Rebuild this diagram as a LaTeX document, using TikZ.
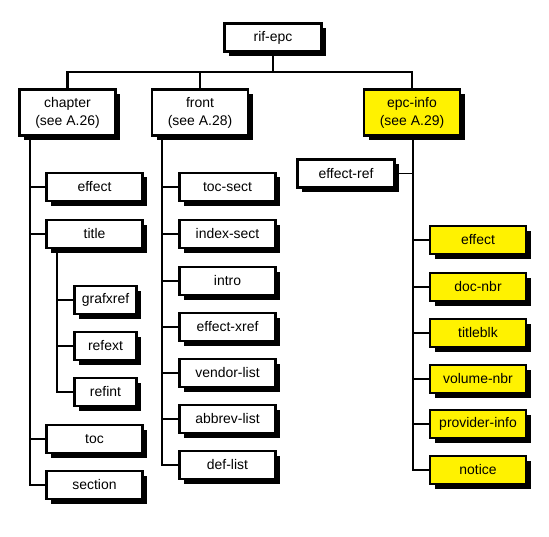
\documentclass[tikz,border=0pt]{standalone}
\usepackage{fontspec}
\setmainfont{Liberation Sans}
\usetikzlibrary{shadows}
\tikzset{
  box/.style={draw,line width=2.6bp,fill=white,minimum width=96bp,minimum height=28bp,inner sep=1bp,
    font=\fontsize{14}{18}\selectfont,align=center,
    drop shadow={shadow xshift=4.5bp,shadow yshift=-4.5bp,opacity=1,fill=black}},
  ybox/.style={box,fill=yellow},
  bus/.style={line width=2.6bp},
  link/.style={line width=1.8bp}
}
\begin{document}
\begin{tikzpicture}[x=1bp,y=-1bp]
\useasboundingbox (0,0) rectangle (549,537);

 \node[box,minimum width=97bp] at (273, 37.5) (rifepc) {rif-epc};
 \node[box,minimum height=46bp] at (67.5, 112.5) (chapter) {chapter\\(see A.26)};
 \node[box,minimum height=46bp] at (200, 112.5) (front) {front\\(see A.28)};
 \node[ybox,minimum height=46bp] at (412, 112.5) (epcinfo) {epc-info\\(see A.29)};

 % chapter
 \node[box] at (94.5, 187) (ceffect) {effect};
 \node[box] at (94.5, 234) (title) {title};
 \node[box,minimum width=62bp] at (105.5, 300) (grafxref) {grafxref};
 \node[box,minimum width=62bp] at (105.5, 346) (refext) {refext};
 \node[box,minimum width=62bp] at (105.5, 392) (refint) {refint};
 \node[box] at (94.5, 439) (toc) {toc};
 \node[box] at (94.5, 485) (section) {section};

 % front
 \node[box] at (227.5, 187) (tocsect) {toc-sect};
 \node[box] at (227.5, 234) (indexsect) {index-sect};
 \node[box] at (227.5, 281) (intro) {intro};
 \node[box] at (227.5, 327) (effectxref) {effect-xref};
 \node[box] at (227.5, 373) (vendorlist) {vendor-list};
 \node[box] at (227.5, 419) (abbrevlist) {abbrev-list};
 \node[box] at (227.5, 465) (deflist) {def-list};

 % epc-info
 \node[box,minimum width=97bp] at (346, 173.5) (effectref) {effect-ref};
 \node[ybox] at (478, 240) (eeffect) {effect};
 \node[ybox] at (478, 287) (docnbr) {doc-nbr};
 \node[ybox] at (478, 333) (titleblk) {titleblk};
 \node[ybox] at (478, 379) (volumenbr) {volume-nbr};
 \node[ybox] at (478, 424) (providerinfo) {provider-info};
 \node[ybox] at (478, 470) (notice) {notice};

\draw[bus] (rifepc.south) -- (rifepc.south |- 0,72);
\draw[bus] (chapter.north) -- (chapter.north |- 0,72) -| (epcinfo.north);
\draw[bus] (front.north) -- (front.north |- 0,72);

\foreach \n in {ceffect,title,toc,section}
  \draw[link] ([xshift=12bp]chapter.south west) |- (\n.west);
\foreach \n in {grafxref,refext,refint}
  \draw[link] ([xshift=12bp]title.south west) |- (\n.west);
\foreach \n in {tocsect,indexsect,intro,effectxref,vendorlist,abbrevlist,deflist}
  \draw[link] ([xshift=11bp]front.south west) |- (\n.west);
\foreach \n in {eeffect,docnbr,titleblk,volumenbr,providerinfo,notice}
  \draw[link] ([xshift=1bp]epcinfo.south) |- (\n.west);
\draw[link] ([xshift=1bp]epcinfo.south) |- (effectref.east);
\end{tikzpicture}
\end{document}
